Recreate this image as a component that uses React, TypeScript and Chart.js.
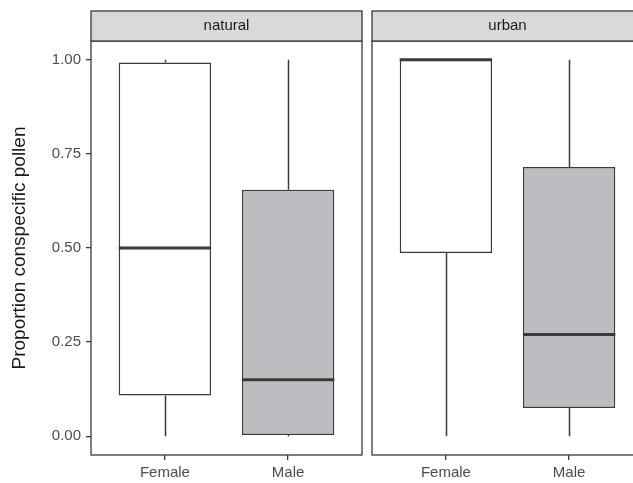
import React, { useEffect, useRef } from 'react';
import { Chart, registerables } from 'chart.js';

Chart.register(...registerables);

// ---- data ----
const SEXES = ['Female', 'Male'];
const SEX_POS = [1, 2];
const PANEL_NAMES = ['natural', 'urban'];
const Y_TICKS = [0, 0.25, 0.5, 0.75, 1];
const Y_TITLE = 'Proportion conspecific pollen';

const NATURAL_MIN = [0.0, 0.0];
const NATURAL_Q1 = [0.108, 0.003];
const NATURAL_MED = [0.5, 0.15];
const NATURAL_Q3 = [0.993, 0.655];
const NATURAL_MAX = [1.0, 1.0];

const URBAN_MIN = [0.0, 0.0];
const URBAN_Q1 = [0.487, 0.075];
const URBAN_MED = [1.0, 0.27];
const URBAN_Q3 = [1.0, 0.715];
const URBAN_MAX = [1.0, 1.0];

const BOX_FILLS = ['#ffffff', '#bcbdc1'];

// ---- styles ----
const LINE = '#3a3a3a';
const TEXT_GREY = '#4d4d4d';
const FONT = "'Liberation Sans', Arial, Helvetica, sans-serif";
const BOX_WIDTH = 0.75;

type Stats = { min: number[]; q1: number[]; med: number[]; q3: number[]; max: number[] };

const STATS: Stats[] = [
  { min: NATURAL_MIN, q1: NATURAL_Q1, med: NATURAL_MED, q3: NATURAL_Q3, max: NATURAL_MAX },
  { min: URBAN_MIN, q1: URBAN_Q1, med: URBAN_MED, q3: URBAN_Q3, max: URBAN_MAX },
];

function facetPlugin(stats: Stats, label: string) {
  return {
    id: 'facet_' + label,
    afterDatasetsDraw(chart: any) {
      const { ctx, chartArea: ca, scales } = chart;
      const x = scales.x;
      const y = scales.y;
      ctx.save();
      ctx.strokeStyle = LINE;
      ctx.lineCap = 'butt';
      SEX_POS.forEach((pos, i) => {
        const xc = Math.round(x.getPixelForValue(pos)) + 0.5;
        ctx.lineWidth = 1.5;
        ctx.beginPath();
        ctx.moveTo(xc, y.getPixelForValue(stats.q3[i]));
        ctx.lineTo(xc, y.getPixelForValue(stats.max[i]));
        ctx.moveTo(xc, y.getPixelForValue(stats.min[i]));
        ctx.lineTo(xc, y.getPixelForValue(stats.q1[i]));
        ctx.stroke();
        ctx.lineWidth = 3;
        ctx.beginPath();
        const ym = y.getPixelForValue(stats.med[i]);
        ctx.moveTo(x.getPixelForValue(pos - BOX_WIDTH / 2), ym);
        ctx.lineTo(x.getPixelForValue(pos + BOX_WIDTH / 2), ym);
        ctx.stroke();
      });
      // panel border
      ctx.lineWidth = 1.3;
      ctx.strokeRect(ca.left, ca.top, ca.right - ca.left, ca.bottom - ca.top);
      // strip
      const stripH = 30;
      ctx.fillStyle = '#d9d9d9';
      ctx.fillRect(ca.left, ca.top - stripH, ca.right - ca.left, stripH);
      ctx.strokeRect(ca.left, ca.top - stripH, ca.right - ca.left, stripH);
      ctx.fillStyle = '#1a1a1a';
      ctx.font = `15px ${FONT}`;
      ctx.textAlign = 'center';
      ctx.textBaseline = 'middle';
      ctx.fillText(label, (ca.left + ca.right) / 2, ca.top - stripH / 2);
      ctx.restore();
    },
  };
}

function makeConfig(panel: number, showY: boolean, padLeft: number, padRight: number): any {
  const stats = STATS[panel];
  return {
    type: 'bar',
    data: {
      datasets: [
        {
          data: SEX_POS.map((p, i) => ({ x: p, y: [stats.q1[i], stats.q3[i]] })),
          backgroundColor: BOX_FILLS,
          borderColor: LINE,
          borderWidth: 1.5,
          borderSkipped: false,
          barPercentage: BOX_WIDTH,
          categoryPercentage: 1,
        },
      ],
    },
    options: {
      responsive: false,
      animation: false,
      devicePixelRatio: 1,
      layout: { padding: { top: 41, left: padLeft, right: padRight, bottom: 0 } },
      plugins: { legend: { display: false }, tooltip: { enabled: false } },
      scales: {
        x: {
          type: 'linear',
          min: 0.4,
          max: 2.6,
          offset: false,
          afterBuildTicks: (s: any) => {
            s.ticks = SEX_POS.map((v) => ({ value: v }));
          },
          afterFit: (s: any) => {
            s.height = 28;
          },
          ticks: {
            callback: (v: number) => SEXES[SEX_POS.indexOf(v)] ?? '',
            font: { size: 15, family: FONT },
            color: TEXT_GREY,
            padding: 4,
            maxRotation: 0,
            autoSkip: false,
          },
          grid: {
            display: true,
            offset: false,
            drawOnChartArea: false,
            drawTicks: true,
            tickLength: 5,
            color: LINE,
            lineWidth: 1.3,
          },
          border: { display: false },
        },
        y: {
          type: 'linear',
          display: showY,
          min: -0.05,
          max: 1.05,
          afterBuildTicks: (s: any) => {
            s.ticks = Y_TICKS.map((v) => ({ value: v }));
          },
          afterFit: (s: any) => {
            if (showY) s.width = 91;
          },
          ticks: {
            callback: (v: number) => v.toFixed(2),
            font: { size: 15, family: FONT },
            color: TEXT_GREY,
            padding: 5,
            autoSkip: false,
          },
          grid: {
            display: true,
            offset: false,
            drawOnChartArea: false,
            drawTicks: true,
            tickLength: 5,
            color: LINE,
            lineWidth: 1.3,
          },
          border: { display: false },
          title: {
            display: showY,
            text: Y_TITLE,
            font: { size: 19, family: FONT },
            color: '#1a1a1a',
            padding: { top: 8, bottom: 0 },
          },
        },
      },
    },
    plugins: [facetPlugin(stats, PANEL_NAMES[panel])],
  };
}

export default function App() {
  const leftRef = useRef<HTMLCanvasElement>(null);
  const rightRef = useRef<HTMLCanvasElement>(null);

  useEffect(() => {
    const c1 = new Chart(leftRef.current!, makeConfig(0, true, 0, 3));
    const c2 = new Chart(rightRef.current!, makeConfig(1, false, 10, 9));
    return () => {
      c1.destroy();
      c2.destroy();
    };
  }, []);

  return (
    <div
      style={{
        position: 'fixed',
        left: 0,
        top: 0,
        width: 633,
        height: 483,
        overflow: 'hidden',
        background: '#ffffff',
      }}
    >
      <canvas
        ref={leftRef}
        width={365}
        height={483}
        style={{ position: 'absolute', left: 0, top: 0, width: 365, height: 483 }}
      />
      <canvas
        ref={rightRef}
        width={290}
        height={483}
        style={{ position: 'absolute', left: 362, top: 0, width: 290, height: 483 }}
      />
    </div>
  );
}
